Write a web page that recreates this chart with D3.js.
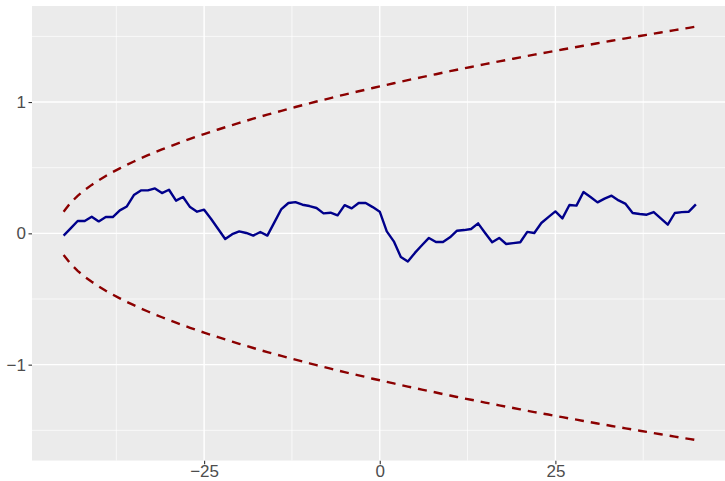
<!DOCTYPE html>
<html>
<head>
<meta charset="utf-8">
<script src="https://cdn.jsdelivr.net/npm/d3@7"></script>
<style>
  html, body { margin: 0; padding: 0; background: #ffffff; }
  svg { display: block; }
</style>
</head>
<body>
<svg id="chart" width="725" height="481"></svg>
<script>
// Time index of the process
const xValues = d3.range(-45, 46);

// Cumulative path
const path = [
  -0.017, 0.038, 0.094, 0.094, 0.127, 0.091, 0.124, 0.124, 0.175, 0.205,
  0.292, 0.327, 0.327, 0.342, 0.307, 0.332, 0.249, 0.277, 0.200, 0.165,
  0.180, 0.109, 0.033, -0.043, -0.006, 0.015, 0.003, -0.017, 0.010, -0.017,
  0.084, 0.185, 0.231, 0.238, 0.218, 0.208, 0.193, 0.152, 0.157, 0.137,
  0.215, 0.190, 0.231, 0.231, 0.200, 0.165, 0.015, -0.061, -0.180, -0.215,
  -0.149, -0.091, -0.035, -0.066, -0.066, -0.030, 0.020, 0.025, 0.033, 0.076,
  0.003, -0.068, -0.035, -0.081, -0.074, -0.068, 0.011, 0.003, 0.079, 0.124,
  0.167, 0.114, 0.216, 0.211, 0.315, 0.277, 0.236, 0.264, 0.287, 0.251,
  0.224, 0.155, 0.147, 0.142, 0.162, 0.114, 0.066, 0.155, 0.162, 0.165,
  0.221
];

// Boundary half-width at each time index (drawn above and below zero)
const bound = [
  0.165, 0.233, 0.286, 0.330, 0.369, 0.404, 0.437, 0.467, 0.495, 0.522,
  0.547, 0.572, 0.595, 0.617, 0.639, 0.660, 0.680, 0.700, 0.719, 0.738,
  0.756, 0.774, 0.791, 0.808, 0.825, 0.841, 0.857, 0.873, 0.889, 0.904,
  0.919, 0.933, 0.948, 0.962, 0.976, 0.990, 1.004, 1.017, 1.030, 1.044,
  1.057, 1.069, 1.082, 1.094, 1.107, 1.119, 1.131, 1.143, 1.155, 1.167,
  1.178, 1.190, 1.201, 1.212, 1.224, 1.235, 1.246, 1.257, 1.267, 1.278,
  1.289, 1.299, 1.310, 1.320, 1.330, 1.340, 1.351, 1.361, 1.371, 1.380,
  1.390, 1.400, 1.410, 1.419, 1.429, 1.438, 1.448, 1.457, 1.467, 1.476,
  1.485, 1.494, 1.503, 1.512, 1.521, 1.530, 1.539, 1.548, 1.557, 1.565,
  1.574
];

const xTicks = [-25, 0, 25];
const xMinor = [-37.5, -12.5, 12.5, 37.5];
const yTicks = [-1, 0, 1];
const yMinor = [-1.5, -0.5, 0.5, 1.5];

const svg = d3.select("#chart");
const panelLeft = 32, panelTop = 6, panelRight = 727.5, panelBottom = 460.7;

// Padded domains (5% either side of the data range)
const xExt = d3.extent(xValues);
const xPad = (xExt[1] - xExt[0]) * 0.05;
const yMax = d3.max(bound);
const yPad = yMax * 2 * 0.05;

const x = d3.scaleLinear().domain([xExt[0] - xPad, xExt[1] + xPad]).range([panelLeft, panelRight]);
const y = d3.scaleLinear().domain([-yMax - yPad, yMax + yPad]).range([panelBottom, panelTop]);

svg.append("defs").append("clipPath").attr("id", "panel-clip")
  .append("rect").attr("x", panelLeft).attr("y", panelTop)
  .attr("width", panelRight - panelLeft).attr("height", panelBottom - panelTop);

const panel = svg.append("g").attr("clip-path", "url(#panel-clip)");

panel.append("rect")
  .attr("x", panelLeft).attr("y", panelTop)
  .attr("width", panelRight - panelLeft).attr("height", panelBottom - panelTop)
  .attr("fill", "#EBEBEB");

// Grid lines
panel.selectAll(".xminor").data(xMinor).join("line")
  .attr("x1", d => x(d)).attr("x2", d => x(d))
  .attr("y1", panelTop).attr("y2", panelBottom)
  .attr("stroke", "#ffffff").attr("stroke-width", 0.7);
panel.selectAll(".yminor").data(yMinor).join("line")
  .attr("y1", d => y(d)).attr("y2", d => y(d))
  .attr("x1", panelLeft).attr("x2", panelRight)
  .attr("stroke", "#ffffff").attr("stroke-width", 0.7);
panel.selectAll(".xmajor").data(xTicks).join("line")
  .attr("x1", d => x(d)).attr("x2", d => x(d))
  .attr("y1", panelTop).attr("y2", panelBottom)
  .attr("stroke", "#ffffff").attr("stroke-width", 1.4);
panel.selectAll(".ymajor").data(yTicks).join("line")
  .attr("y1", d => y(d)).attr("y2", d => y(d))
  .attr("x1", panelLeft).attr("x2", panelRight)
  .attr("stroke", "#ffffff").attr("stroke-width", 1.4);

// Boundaries
const lineGen = d3.line().x(d => x(d[0])).y(d => y(d[1]));
const upper = xValues.map((t, i) => [t, bound[i]]);
const lower = xValues.map((t, i) => [t, -bound[i]]);
[upper, lower].forEach(series => {
  panel.append("path")
    .attr("d", lineGen(series))
    .attr("fill", "none")
    .attr("stroke", "#8B0000")
    .attr("stroke-width", 2.4)
    .attr("stroke-dasharray", "9,7");
});

// Path
panel.append("path")
  .attr("d", lineGen(xValues.map((t, i) => [t, path[i]])))
  .attr("fill", "none")
  .attr("stroke", "#00008B")
  .attr("stroke-width", 2.4)
  .attr("stroke-linejoin", "round");

// Axes
const fmt = d => d < 0 ? "\u2212" + Math.abs(d) : String(d);
const xAxis = svg.append("g").attr("transform", `translate(0,${panelBottom})`)
  .call(d3.axisBottom(x).tickValues(xTicks).tickFormat(fmt).tickSizeInner(3.5).tickSizeOuter(0).tickPadding(1));
const yAxis = svg.append("g").attr("transform", `translate(${panelLeft},0)`)
  .call(d3.axisLeft(y).tickValues(yTicks).tickFormat(fmt).tickSizeInner(3.5).tickSizeOuter(0).tickPadding(2.5));

[xAxis, yAxis].forEach(g => {
  g.select(".domain").remove();
  g.selectAll(".tick line").attr("stroke", "#333333").attr("stroke-width", 1.1);
  g.selectAll(".tick text")
    .attr("fill", "#4D4D4D")
    .style("font-family", "'Liberation Sans', Arial, sans-serif")
    .style("font-size", "17px");
});
</script>
</body>
</html>
